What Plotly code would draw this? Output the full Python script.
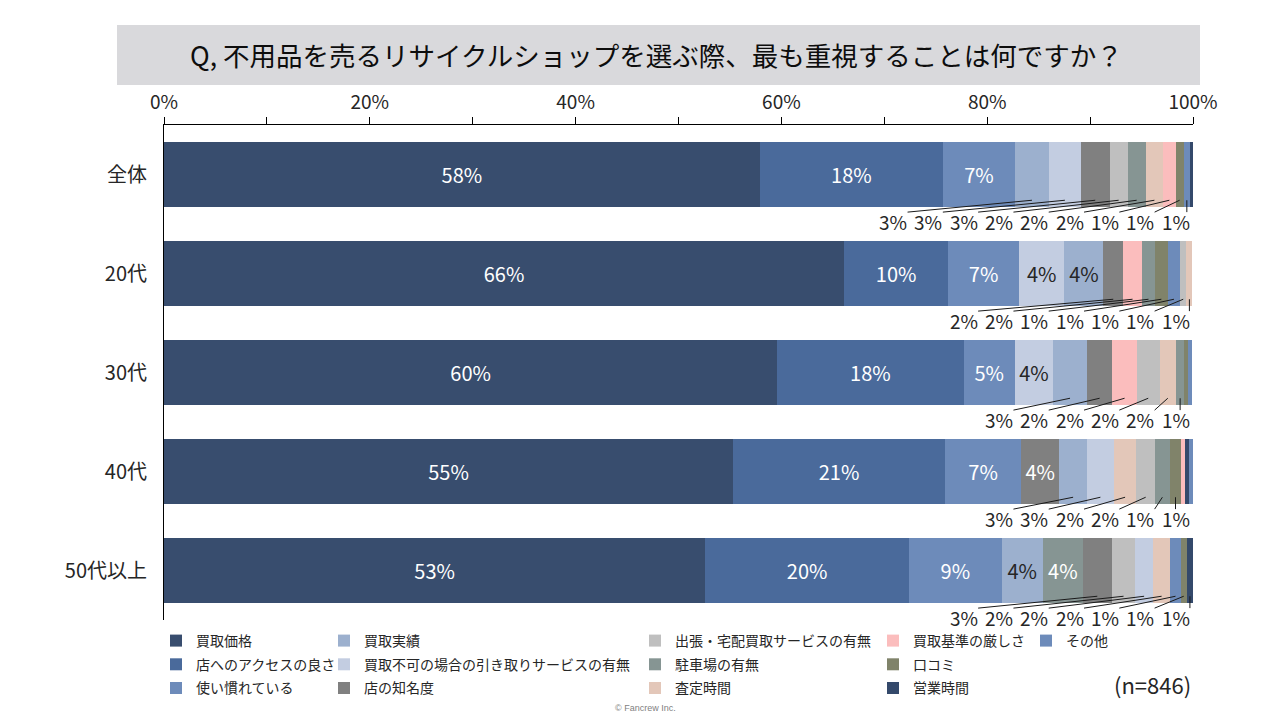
import plotly.graph_objects as go

# ---------------- data ----------------
rows = ["全体", "20代", "30代", "40代", "50代以上"]
categories = [
    "買取価格", "店へのアクセスの良さ", "使い慣れている",
    "買取実績", "買取不可の場合の引き取りサービスの有無", "店の知名度",
    "出張・宅配買取サービスの有無", "駐車場の有無", "査定時間",
    "買取基準の厳しさ", "口コミ", "営業時間", "その他",
]
colors = [
    "#384D6E", "#4A6A9B", "#6D8BBA",
    "#9CB0CE", "#C3CDE1", "#808080",
    "#BFBFBF", "#869593", "#E3C7B9",
    "#FBBDBD", "#80836A", "#34496B", "#6D8BBA",
]
dark_text = [False, False, False, True, True, False,
             True, False, True, True, False, False, False]

# values (%) per category for rows: 全体, 20代, 30代, 40代, 50代以上
v_price = [57.9, 66.1, 59.6, 55.3, 52.6]
v_access = [17.8, 10.1, 18.1, 20.6, 19.8]
v_used = [7.0, 6.9, 5.0, 7.4, 9.0]
v_record = [3.3, 3.8, 3.3, 2.7, 4.0]
v_pickup = [3.1, 4.4, 3.7, 2.6, 1.7]
v_fame = [2.8, 1.9, 2.45, 3.7, 2.8]
v_delivery = [1.75, 0.6, 2.2, 1.8, 2.3]
v_parking = [1.75, 1.25, 0.8, 1.45, 3.9]
v_appraisal = [1.7, 0.6, 1.6, 2.2, 1.7]
v_strict = [1.2, 1.85, 2.4, 0.4, 0.0]
v_review = [0.8, 1.25, 0.4, 1.1, 0.6]
v_hours = [0.3, 0.0, 0.0, 0.4, 0.6]
v_other = [0.6, 1.2, 0.4, 0.35, 1.0]

values = [v_price, v_access, v_used, v_record, v_pickup, v_fame,
          v_delivery, v_parking, v_appraisal, v_strict, v_review,
          v_hours, v_other]

x_ticks = [0, 20, 40, 60, 80, 100]
n_label = "(n=846)"
title_text = "Q, 不用品を売るリサイクルショップを選ぶ際、最も重視することは何ですか？"

# ---------------- style ----------------
FONT = "Noto Sans CJK JP, Noto Sans, sans-serif"
TXT = "#262626"
INSIDE_MIN = 3.5
LABEL_MIN = 0.5
LABEL_RIGHT = 98.3
LABEL_STEP = 3.43
LABEL_HALF = 1.4
BAR_W = 0.66
LABEL_SIZE = 20
SMALL_SIZE = 19

# page offset (body margin) and figure size
OFF = 8
W, H = 1280 - 2 * OFF, 720 - 2 * OFF
# plot area in screen px: x 164..1193, y 125..620
L, R, T, B = 164, 1193, 125, 620


def px_x(p):
    return (p - L) / (R - L)


def px_y(p):
    return (B - p) / (B - T)


def cx_x(p):
    return (p - OFF) / W


def cx_y(p):
    return 1 - (p - OFF) / H


fig = go.Figure()
shapes = []
annotations = []
shown = set()

for r, row in enumerate(rows):
    order = sorted(range(len(categories)), key=lambda i: -values[i][r])
    order = [i for i in order if values[i][r] > 0]
    base = 0.0
    small = []
    for i in order:
        v = values[i][r]
        txt = f"{v:.0f}%" if v >= INSIDE_MIN else ""
        fig.add_trace(go.Bar(
            x=[v], y=[r], orientation="h", width=BAR_W,
            name=categories[i], legendgroup=categories[i],
            legend="legend" if i // 3 == 0 else f"legend{i // 3 + 1}",
            legendrank=i + 1,
            showlegend=i not in shown,
            marker=dict(color=colors[i], line=dict(width=0)),
            text=[txt], textposition="inside", insidetextanchor="middle",
            textangle=0, constraintext="none",
            textfont=dict(family=FONT, size=LABEL_SIZE,
                          color=TXT if dark_text[i] else "#FFFFFF"),
            hovertemplate=f"{row}<br>{categories[i]}: %{{x:.1f}}%<extra></extra>",
        ))
        shown.add(i)
        if LABEL_MIN <= v < INSIDE_MIN:
            small.append((base + v / 2, v))
        base += v
    n = len(small)
    for k, (cx, v) in enumerate(small):
        lx = LABEL_RIGHT - LABEL_STEP * (n - 1 - k)
        sx = min(max(cx, lx - LABEL_HALF), lx + LABEL_HALF)
        shapes.append(dict(type="line", xref="x", yref="y",
                           x0=sx, y0=r + 0.38, x1=cx, y1=r + 0.26,
                           line=dict(color="#1a1a1a", width=1)))
        annotations.append(dict(x=lx, y=r + 0.47, xref="x", yref="y",
                                xanchor="center", yanchor="middle",
                                text=f"{v:.0f}%", showarrow=False,
                                font=dict(family=FONT, size=SMALL_SIZE, color=TXT)))

shapes.append(dict(type="rect", xref="paper", yref="paper", layer="below",
                   x0=px_x(117), x1=px_x(1200), y0=px_y(85), y1=px_y(25),
                   fillcolor="#D9D9DC", line=dict(width=0)))
annotations.append(dict(xref="paper", yref="paper", x=px_x(656), y=px_y(55),
                        xanchor="center", yanchor="middle",
                        text=title_text, showarrow=False,
                        font=dict(family=FONT, size=26.5, color="#0D0D0D")))
annotations.append(dict(xref="paper", yref="paper", x=px_x(1193), y=px_y(684),
                        xanchor="right", yanchor="middle", text=n_label, showarrow=False,
                        font=dict(family=FONT, size=22, color=TXT)))
annotations.append(dict(xref="paper", yref="paper", x=px_x(645), y=px_y(708),
                        xanchor="center", yanchor="middle",
                        text="© Fancrew Inc.", showarrow=False,
                        font=dict(family="Liberation Sans, Arial", size=9, color="#7F7F7F")))

legend_text_x = [198, 366, 677, 915, 1068]
legend_common = dict(orientation="v", xanchor="left", yanchor="top",
                     xref="container", yref="container",
                     bgcolor="rgba(0,0,0,0)", borderwidth=0,
                     traceorder="grouped", tracegroupgap=2.5,
                     font=dict(family=FONT, size=14, color=TXT))
layout_legends = {}
for c, tx in enumerate(legend_text_x):
    key = "legend" if c == 0 else f"legend{c + 1}"
    layout_legends[key] = dict(legend_common, x=cx_x(tx - 42), y=cx_y(625))

fig.update_layout(
    width=W, height=H,
    margin=dict(l=L - OFF, r=W - (R - OFF), t=T - OFF, b=H - (B - OFF),
                autoexpand=False),
    paper_bgcolor="white", plot_bgcolor="white",
    barmode="stack",
    font=dict(family=FONT, color=TXT),
    xaxis=dict(side="top", range=[0, 100], tickvals=x_ticks,
               ticktext=[f"{t}%" for t in x_ticks],
               ticks="outside", ticklen=7, tickcolor="black",
               minor=dict(dtick=10, ticks="outside", ticklen=7, tickcolor="black"),
               showline=True, linecolor="black", linewidth=1,
               showgrid=False, zeroline=False,
               tickfont=dict(family=FONT, size=19, color=TXT)),
    yaxis=dict(range=[len(rows) - 0.5, -0.5], tickvals=list(range(len(rows))),
               ticktext=rows, showline=True, linecolor="black", linewidth=1,
               showgrid=False, zeroline=False, ticks="",
               ticklabelstandoff=12,
               tickfont=dict(family=FONT, size=20, color=TXT)),
    shapes=shapes, annotations=annotations,
    **layout_legends,
)

fig.write_html("out.html")
